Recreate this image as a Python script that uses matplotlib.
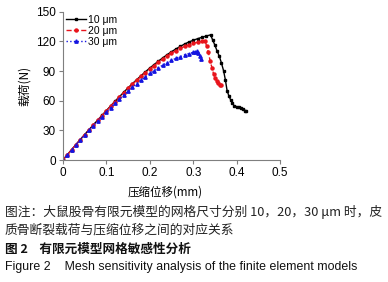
#!/usr/bin/env python3
"""Mesh sensitivity: load vs compression displacement for three mesh sizes."""

import matplotlib
matplotlib.use("Agg")
import matplotlib.pyplot as plt

plt.rcParams["font.family"] = ["Liberation Sans", "Noto Sans CJK SC", "DejaVu Sans"]

# 10 um mesh
DISP_10 = [0.00, 0.01, 0.02, 0.03, 0.04, 0.05, 0.06, 0.07, 0.08, 0.09,
           0.10, 0.11, 0.12, 0.13, 0.14, 0.15, 0.16, 0.17, 0.18, 0.19,
           0.20, 0.21, 0.22, 0.23, 0.24, 0.25, 0.26, 0.27, 0.28, 0.29,
           0.30, 0.31, 0.32, 0.33, 0.34, 0.345, 0.35, 0.355, 0.36, 0.365,
           0.37, 0.374, 0.378, 0.382, 0.386, 0.39, 0.394, 0.40, 0.405, 0.41,
           0.415, 0.42, 0.422]
LOAD_10 = [0.0, 5.3, 10.5, 15.7, 20.8, 25.8, 30.7, 35.6, 40.4, 45.2,
           50.0, 54.8, 59.5, 64.0, 68.5, 73.0, 77.2, 81.3, 85.3, 89.2,
           93.0, 96.5, 100.0, 103.3, 106.5, 109.5, 112.2, 114.8, 117.2, 119.3,
           121.0, 122.6, 124.0, 125.3, 126.5, 121.0, 116.0, 110.0, 105.0, 98.0,
           90.0, 81.0, 70.0, 65.0, 61.0, 57.5, 55.0, 54.0, 53.5, 52.5,
           51.5, 50.0, 49.3]

# 20 um mesh
DISP_20 = [0.00, 0.01, 0.02, 0.03, 0.04, 0.05, 0.06, 0.07, 0.08, 0.09,
           0.10, 0.11, 0.12, 0.13, 0.14, 0.15, 0.16, 0.17, 0.18, 0.19,
           0.20, 0.21, 0.22, 0.23, 0.24, 0.25, 0.26, 0.27, 0.28, 0.29,
           0.30, 0.31, 0.32, 0.327, 0.331, 0.335, 0.339, 0.343, 0.347, 0.351,
           0.354, 0.358, 0.362, 0.364]
LOAD_20 = [0.0, 5.3, 10.5, 15.7, 20.8, 25.8, 30.7, 35.5, 40.3, 45.0,
           49.7, 54.4, 59.0, 63.5, 68.0, 72.5, 76.6, 80.6, 84.5, 88.3,
           92.0, 95.5, 98.8, 102.0, 105.0, 108.0, 110.5, 112.8, 114.8, 116.5,
           118.0, 119.0, 119.8, 120.5, 115.0, 108.7, 100.0, 93.5, 86.7, 82.5,
           80.0, 77.5, 76.0, 75.5]

# 30 um mesh
DISP_30 = [0.00, 0.01, 0.02, 0.03, 0.04, 0.05, 0.06, 0.07, 0.08, 0.09,
           0.10, 0.11, 0.12, 0.13, 0.14, 0.15, 0.16, 0.17, 0.18, 0.19,
           0.20, 0.21, 0.22, 0.23, 0.24, 0.25, 0.26, 0.27, 0.28, 0.29,
           0.30, 0.305, 0.309, 0.312, 0.315, 0.317]
LOAD_30 = [0.0, 5.2, 10.3, 15.4, 20.4, 25.3, 30.1, 34.8, 39.5, 44.0,
           48.5, 53.0, 57.3, 61.5, 65.6, 69.6, 73.5, 77.2, 80.8, 84.2,
           87.5, 90.5, 93.3, 96.0, 98.5, 100.8, 102.8, 104.6, 106.2, 107.6,
           108.8, 109.5, 110.0, 108.0, 105.0, 102.5]

LABELS = ["10 μm", "20 μm", "30 μm"]
X_TICKS = [0, 0.1, 0.2, 0.3, 0.4, 0.5]
X_TICK_LABELS = ["0", "0.1", "0.2", "0.3", "0.4", "0.5"]
Y_TICKS = [0, 30, 60, 90, 120, 150]

CAPTION_1 = "图注：大鼠股骨有限元模型的网格尺寸分别 10，20，30 μm 时，皮"
CAPTION_2 = "质骨断裂载荷与压缩位移之间的对应关系"
TITLE_CN = "图 2    有限元模型网格敏感性分析"
TITLE_EN = "Figure 2    Mesh sensitivity analysis of the finite element models"

cjk = ["Noto Sans CJK SC", "DejaVu Sans"]

fig = plt.figure(figsize=(3.88, 2.82), dpi=100)
ax = fig.add_axes([0.162, 0.432, 0.560, 0.527])

ax.plot(DISP_10, LOAD_10, color="black", ls="-", lw=1.0, marker="s", ms=2.0,
        label=LABELS[0])
ax.plot(DISP_20, LOAD_20, color="#e8141c", ls="--", lw=1.0, marker="o", ms=2.2,
        label=LABELS[1])
ax.plot(DISP_30, LOAD_30, color="#1414e0", ls=":", lw=1.0, marker="^", ms=2.4,
        label=LABELS[2])

ax.set_xlim(0, 0.5)
ax.set_ylim(0, 150)
ax.set_xticks(X_TICKS)
ax.set_xticklabels(X_TICK_LABELS)
ax.set_yticks(Y_TICKS)
for side in ("top", "right"):
    ax.spines[side].set_visible(False)
for side in ("left", "bottom"):
    ax.spines[side].set_color("#7f7f7f")
    ax.spines[side].set_linewidth(0.8)
ax.tick_params(direction="out", length=3, width=0.8, color="#7f7f7f",
               labelsize=8.5, pad=2)

ax.set_ylabel("载荷(N)", fontsize=8.5, family=cjk)
ax.yaxis.set_label_coords(-0.147, 0.5)
fig.text(0.425, 0.318, "压缩位移(mm)", fontsize=8.3, ha="center", va="center",
         family=cjk)

ax.legend(loc="upper left", bbox_to_anchor=(-0.015, 1.02), frameon=False,
          fontsize=7.5, handlelength=1.9, handletextpad=0.25, labelspacing=0.1,
          borderaxespad=0.2)

fig.text(0.012, 0.248, CAPTION_1, fontsize=9.2, family=cjk, color="#222222",
         va="center")
fig.text(0.012, 0.184, CAPTION_2, fontsize=9.2, family=cjk, color="#222222",
         va="center")
fig.text(0.012, 0.117, TITLE_CN, fontsize=9.1, family=cjk, color="#111111",
         va="center", fontweight="bold")
fig.text(0.012, 0.053, TITLE_EN, fontsize=8.9, family=["Liberation Sans"],
         color="#111111", va="center")

fig.savefig("out.png", dpi=100)
